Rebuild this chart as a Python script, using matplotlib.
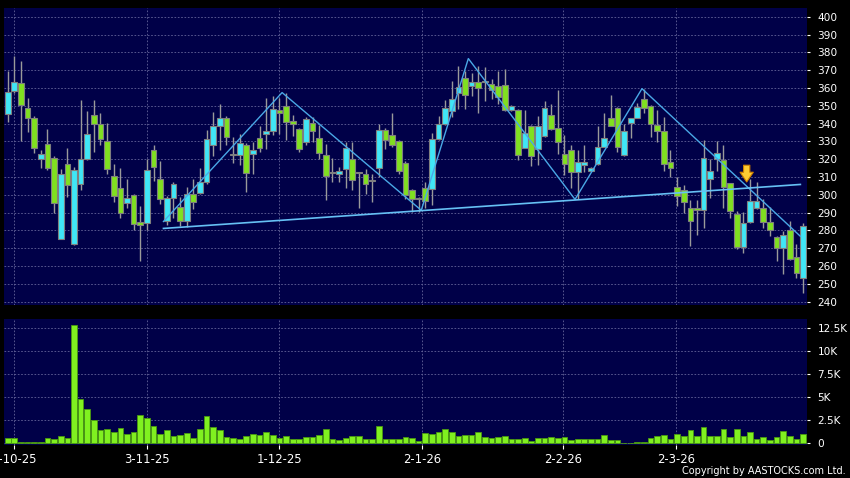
import matplotlib
matplotlib.use('Agg')
import matplotlib.pyplot as plt
import numpy as np

# ---------------- data ----------------
opens = [345.3, 358.3, 362.9, 348.6, 343.1, 320.3, 328.6, 320.6, 275.4, 317.5,
         272.6, 305.8, 320.3, 344.7, 339.7, 330.1, 310.6, 303.6, 295.4, 300.0,
         284.5, 284.1, 325.3, 308.6, 285.4, 298.0, 293.4, 285.4, 300.2, 300.8,
         306.9, 328.0, 338.8, 343.3, 322.6, 322.1, 328.0, 323.0, 331.8, 334.0,
         336.0, 347.7, 349.6, 341.4, 337.0, 329.5, 340.3, 332.1, 322.5, 312.3,
         311.9, 314.7, 320.3, 312.3, 311.9, 308.2, 315.3, 336.4, 333.6, 330.1,
         318.0, 302.6, 298.0, 303.9, 303.2, 331.4, 339.7, 347.2, 357.0, 365.7,
         361.1, 363.5, 363.5, 362.4, 361.1, 361.4, 347.7, 347.7, 326.4, 338.4,
         325.5, 332.9, 344.7, 337.3, 323.0, 325.3, 312.8, 316.5, 313.6, 317.3,
         327.1, 342.9, 349.0, 322.1, 340.3, 343.1, 353.7, 349.9, 339.4, 335.7,
         318.4, 304.5, 302.6, 292.8, 292.8, 291.5, 309.1, 320.3, 319.7, 306.4,
         289.1, 270.8, 284.6, 292.4, 292.4, 284.5, 276.3, 270.2, 280.4, 265.2,
         253.5]
highs = [369.4, 378.1, 375.0, 354.2, 344.0, 325.0, 337.0, 322.0, 314.7, 326.4,
         315.6, 353.1, 347.2, 353.3, 346.2, 340.3, 317.5, 315.3, 309.1, 300.5,
         293.7, 320.3, 328.2, 318.8, 299.5, 307.3, 298.9, 304.1, 309.1, 315.3,
         336.4, 346.6, 350.9, 344.0, 332.3, 334.2, 329.0, 329.5, 338.8, 354.6,
         355.5, 354.6, 357.4, 344.7, 337.5, 343.5, 343.5, 339.2, 328.6, 320.6,
         315.6, 329.5, 329.5, 313.0, 314.7, 311.5, 339.7, 337.3, 346.2, 330.5,
         319.0, 303.0, 299.0, 307.3, 334.7, 344.4, 353.3, 363.9, 372.2, 369.4,
         368.5, 372.2, 371.8, 364.8, 369.4, 370.4, 350.5, 348.0, 347.5, 339.0,
         344.0, 352.7, 350.9, 358.9, 333.6, 327.7, 324.9, 327.7, 315.5, 338.4,
         346.2, 355.9, 349.5, 339.7, 342.9, 351.8, 359.2, 350.2, 347.7, 343.5,
         324.9, 310.0, 305.4, 297.1, 297.1, 330.5, 320.3, 330.1, 328.0, 306.8,
         290.9, 290.6, 309.1, 307.3, 297.6, 293.4, 276.6, 279.5, 285.4, 272.4,
         284.1]
lows = [340.7, 357.0, 330.0, 335.5, 323.6, 315.0, 314.0, 290.0, 275.0, 298.6,
        272.0, 302.6, 319.7, 324.0, 328.0, 311.4, 296.1, 286.9, 292.4, 280.0,
        262.7, 280.4, 307.6, 294.7, 283.2, 286.9, 282.2, 281.7, 292.0, 300.4,
        306.0, 321.6, 325.3, 328.0, 318.0, 316.5, 301.7, 311.5, 324.0, 325.5,
        333.6, 334.2, 330.5, 333.2, 324.3, 327.7, 329.5, 320.3, 297.1, 307.3,
        307.3, 303.6, 302.6, 292.4, 300.4, 296.0, 310.0, 325.8, 327.0, 311.9,
        297.6, 290.6, 290.6, 292.4, 294.3, 331.0, 339.0, 343.5, 348.1, 348.1,
        355.5, 346.2, 352.7, 353.7, 350.9, 347.0, 347.0, 319.3, 326.0, 316.2,
        316.5, 332.5, 336.5, 323.0, 311.0, 303.6, 297.6, 312.8, 313.2, 317.0,
        327.0, 338.5, 324.3, 321.8, 331.8, 343.0, 346.2, 332.3, 329.5, 313.2,
        310.0, 293.9, 289.6, 271.1, 277.6, 281.3, 298.4, 313.2, 292.4, 286.9,
        269.8, 267.4, 284.2, 292.0, 281.3, 276.7, 262.7, 255.3, 263.5, 253.5,
        245.1]
closes = [357.9, 363.5, 350.3, 343.1, 326.4, 323.0, 315.3, 295.2, 311.4, 305.4,
          314.1, 320.3, 334.2, 339.7, 331.2, 314.7, 299.3, 289.6, 298.4, 283.5,
          283.0, 314.1, 315.6, 297.4, 298.4, 305.8, 285.4, 300.2, 295.8, 306.9,
          331.4, 338.8, 343.3, 332.7, 322.6, 329.0, 312.5, 325.3, 326.4, 335.7,
          348.1, 345.7, 341.0, 339.6, 325.8, 342.5, 335.8, 323.6, 310.4, 312.3,
          313.2, 326.2, 308.2, 312.3, 305.8, 308.2, 336.4, 330.5, 328.0, 313.2,
          299.8, 297.4, 298.0, 296.5, 331.4, 339.7, 348.6, 353.7, 360.7, 356.1,
          363.5, 359.8, 363.5, 358.9, 355.1, 347.7, 349.9, 322.1, 334.7, 321.7,
          338.4, 349.0, 337.0, 329.5, 317.5, 312.8, 318.4, 318.4, 315.3, 327.0,
          331.8, 338.8, 327.1, 335.7, 342.9, 349.4, 349.0, 339.7, 336.0, 317.1,
          315.3, 299.5, 295.8, 285.0, 291.5, 320.9, 313.2, 323.6, 304.5, 291.0,
          270.8, 284.1, 296.3, 296.3, 284.5, 280.0, 270.2, 277.2, 263.7, 256.3,
          282.2]
volumes_k = [0.58, 0.58, 0.10, 0.18, 0.10, 0.10, 0.58, 0.50, 0.80, 0.55,
             12.83, 4.78, 3.77, 2.54, 1.41, 1.52, 1.23, 1.67, 1.01, 1.27,
             3.08, 2.75, 1.85, 0.98, 1.45, 0.80, 0.94, 1.12, 0.54, 1.52,
             2.93, 1.81, 1.45, 0.72, 0.54, 0.47, 0.83, 1.01, 0.90, 1.23,
             0.94, 0.58, 0.80, 0.43, 0.43, 0.65, 0.65, 0.90, 1.59, 0.47,
             0.36, 0.58, 0.80, 0.80, 0.43, 0.43, 1.88, 0.43, 0.43, 0.43,
             0.69, 0.58, 0.25,
             1.1, 1.0, 1.2, 1.6, 1.2, 0.75, 0.9, 0.9, 1.2, 0.7,
             0.6, 0.65, 0.85, 0.5, 0.5, 0.6, 0.3, 0.6, 0.6, 0.7,
             0.6, 0.7, 0.4, 0.45, 0.5, 0.5, 0.5, 0.9, 0.35, 0.35,
             0.0, 0.05, 0.15, 0.15, 0.6, 0.75, 0.9, 0.5, 1.0, 0.85,
             1.4, 0.8, 1.8, 0.75, 0.85, 1.55, 0.7, 1.55, 0.75, 1.2,
             0.45, 0.65, 0.4, 0.7, 1.35, 0.8, 0.45, 1.0]

date_labels = ['2-10-25', '3-11-25', '1-12-25', '2-1-26', '2-2-26', '2-3-26']
date_idx = [1, 21, 41, 62.5, 83.8, 100.8]

price_ticks = list(range(240, 401, 10))
vol_ticks = [0, 2.5, 5, 7.5, 10, 12.5]
vol_tick_labels = ['0', '2.5K', '5K', '7.5K', '10K', '12.5K']

# pattern lines (index, price)
zigzag_idx = [23.5, 41.4, 62.4, 69.5, 85.6, 95.7, 119.6]
zigzag_price = [285.0, 357.4, 291.3, 376.5, 297.4, 359.6, 276.7]
neck_idx = [23.5, 119.6]
neck_price = [281.1, 305.8]
arrow_idx = 111.5
arrow_tip = 307.2
arrow_tail = 316.6

# ---------------- styling ----------------
NAVY = '#000048'
CYAN = '#40e6f6'
GREEN = '#80e020'
VOLG = '#80f020'
GRID = '#64649a'
W, H = 850, 478

fig = plt.figure(figsize=(8.5, 4.78), dpi=100, facecolor='black')


def px_axes(l, t, r, b):
    return fig.add_axes([l / W, 1 - b / H, (r - l) / W, (b - t) / H])


ax = px_axes(4, 8, 807, 305)
axv = px_axes(4, 319, 807, 445)

o = np.array(opens)
c = np.array(closes)
h = np.array(highs)
lo = np.array(lows)
x = np.arange(len(o))

for a in (ax, axv):
    a.set_facecolor(NAVY)
    for s in a.spines.values():
        s.set_visible(False)
    a.set_xlim(-0.56, 120.6)
    a.set_xticks(date_idx)
    a.grid(True, color=GRID, ls=(0, (2, 2)), lw=0.6)
    a.set_axisbelow(True)
    a.yaxis.tick_right()
    a.tick_params(axis='y', colors='white', labelcolor='white', labelsize=7.6,
                  direction='out', length=2.5, width=0.8, pad=5)

# candles
ax.vlines(x, lo, h, color='#9a9a9a', lw=1.0, zorder=2)
diff = c - o
is_doji = np.abs(diff) < 0.3
bottoms = np.minimum(o, c)
heights = np.where(is_doji, 0.6, np.abs(diff))
bottoms = np.where(is_doji, o - 0.3, bottoms)
cols = np.where(is_doji, '#a8a8a8', np.where(diff > 0, CYAN, GREEN))
ax.bar(x, heights, bottom=bottoms, width=0.86, color=cols,
       edgecolor='#7f7f7f', linewidth=0.8, zorder=3)

# pattern lines
ax.plot(zigzag_idx, zigzag_price, color='#4aa8e6', lw=1.0, zorder=4)
ax.plot(neck_idx, neck_price, color='#66c0f4', lw=1.2, zorder=4)
ax.annotate('', xy=(arrow_idx, arrow_tip), xytext=(arrow_idx, arrow_tail),
            arrowprops=dict(arrowstyle='simple,head_width=0.95,head_length=0.7,tail_width=0.45',
                            fc='#ffcc33', ec='#d08000', lw=0.8, mutation_scale=10,
                            shrinkA=0, shrinkB=0),
            zorder=5)

ax.set_ylim(238.1, 404.9)
ax.set_yticks(price_ticks)
ax.set_yticklabels([str(v) for v in price_ticks])
ax.tick_params(axis='x', length=0, labelbottom=False)

# volume
axv.bar(x, volumes_k, width=0.86, color=VOLG, edgecolor='#4a9a10', linewidth=0.6, zorder=3)
axv.set_ylim(-0.18, 13.51)
axv.set_yticks(vol_ticks)
axv.set_yticklabels(vol_tick_labels)
axv.set_xticklabels(date_labels)
axv.tick_params(axis='x', colors='white', labelcolor='white', labelsize=8.4,
                direction='out', length=3, width=0.8, pad=3)

fig.text(846 / W, 1 - 471.5 / H, 'Copyright by AASTOCKS.com Ltd.', ha='right', va='center',
         fontsize=7, color='white')

fig.savefig('out.png', dpi=100, facecolor='black')
